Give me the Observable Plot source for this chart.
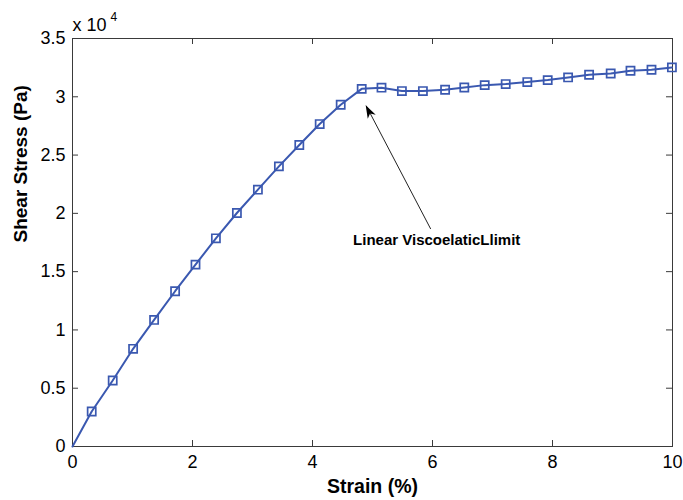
<!DOCTYPE html>
<html>
<head>
<meta charset="utf-8">
<script src="https://cdn.jsdelivr.net/npm/d3@7"></script>
<script src="https://cdn.jsdelivr.net/npm/@observablehq/plot@0.6"></script>
<style>
  html, body { margin: 0; padding: 0; background: #fff; }
  #chart { width: 683px; height: 500px; }
</style>
</head>
<body>
<div id="chart"></div>
<script>
// ---- data ----
const strain = [0, 0.32, 0.67, 1.01, 1.36, 1.71, 2.05, 2.39, 2.74, 3.09, 3.44, 3.78, 4.12, 4.47, 4.82, 5.15, 5.49, 5.84, 6.21, 6.53, 6.87, 7.22, 7.58, 7.92, 8.26, 8.61, 8.97, 9.30, 9.65, 9.99];
const stress = [0, 3000, 5660, 8380, 10860, 13320, 15600, 17860, 20030, 22030, 24030, 25860, 27660, 29320, 30680, 30780, 30490, 30490, 30600, 30800, 31000, 31090, 31260, 31430, 31660, 31890, 32000, 32230, 32320, 32520];
const xTicks = [0, 2, 4, 6, 8, 10];
const yTicks = [0, 5000, 10000, 15000, 20000, 25000, 30000, 35000];
const xLabel = "Strain (%)";
const yLabel = "Shear Stress (Pa)";
const exponentBase = "x 10";
const exponentPower = "4";
const annoText = ["Linear ViscoelaticLlimit"];
const annoTextX = [6.07];
const annoTextY = [17660];
const annoTailX = [5.97];
const annoTailY = [18660];
const annoTipX = [4.895];
const annoTipY = [29230];

const data = strain.map((s, i) => ({strain: s, stress: stress[i]}));
const markerData = data.slice(1);
const anno = annoText.map((t, i) => ({
  text: t, tx: annoTextX[i], ty: annoTextY[i],
  x1: annoTailX[i], y1: annoTailY[i], x2: annoTipX[i], y2: annoTipY[i]
}));

const blue = "#3a58b0";
const axisColor = "#3a3a3a";
const font = "'Liberation Sans', Arial, Helvetica, sans-serif";

const plot = Plot.plot({
  width: 683,
  height: 500,
  marginLeft: 72,
  marginRight: 11,
  marginTop: 38,
  marginBottom: 54,
  style: {fontFamily: font, fontSize: "18px", color: "#000", background: "#fff", overflow: "visible"},
  x: {domain: [0, 10]},
  y: {domain: [0, 35000]},
  marks: [
    Plot.frame({stroke: axisColor}),
    // inward ticks, bottom & top
    Plot.tickX(xTicks, {x: d => d, insetTop: 402, stroke: axisColor}),
    Plot.tickX(xTicks, {x: d => d, insetBottom: 402, stroke: axisColor}),
    // inward ticks, left & right
    Plot.tickY(yTicks, {y: d => d, insetRight: 594, stroke: axisColor}),
    Plot.tickY(yTicks, {y: d => d, insetLeft: 594, stroke: axisColor}),
    Plot.axisX({ticks: xTicks, tickSize: 0, tickPadding: 9, fontSize: 18, label: null, tickFormat: d => String(d)}),
    Plot.axisY({ticks: yTicks, tickSize: 0, tickPadding: 7, fontSize: 18, label: null, tickFormat: d => String(d / 1e4)}),
    Plot.text([xLabel], {frameAnchor: "bottom", dy: 40, text: d => d, fontWeight: "bold", fontSize: 19.5, lineAnchor: "middle"}),
    Plot.text([yLabel], {frameAnchor: "left", dx: -52, dy: 0, rotate: -90, text: d => d, fontWeight: "bold", fontSize: 19, lineAnchor: "middle"}),
    Plot.text([exponentBase], {frameAnchor: "top-left", textAnchor: "start", lineAnchor: "bottom", dy: -8, dx: 0, text: d => d, fontSize: 18}),
    Plot.text([exponentPower], {frameAnchor: "top-left", textAnchor: "start", lineAnchor: "bottom", dy: -18, dx: 38, text: d => d, fontSize: 12}),
    Plot.line(data, {x: "strain", y: "stress", stroke: blue, strokeWidth: 2}),
    Plot.dot(markerData, {x: "strain", y: "stress", symbol: "square", r: 4.6, stroke: blue, strokeWidth: 1.7, fill: "none"}),
    Plot.link(anno, {x1: "x1", y1: "y1", x2: "x2", y2: "y2", stroke: "#222", strokeWidth: 1}),
    Plot.text(anno, {x: "tx", y: "ty", text: "text", fontWeight: "bold", fontSize: 15, lineAnchor: "middle", fill: "#000"})
  ]
});

// filled arrow head positioned via the plot's scales
const sx = plot.scale("x"), sy = plot.scale("y");
for (const a of anno) {
  const tx = sx.apply(a.x2), ty = sy.apply(a.y2);
  const bx = sx.apply(a.x1), by = sy.apply(a.y1);
  const dx = tx - bx, dy = ty - by, len = Math.hypot(dx, dy);
  const ux = dx / len, uy = dy / len, nx = -uy, ny = ux;
  const L = 13, W = 4.5;
  const backX = tx - ux * L, backY = ty - uy * L;
  const notchX = tx - ux * L * 0.72, notchY = ty - uy * L * 0.72;
  const p = `M${tx},${ty}L${backX + nx * W},${backY + ny * W}L${notchX},${notchY}L${backX - nx * W},${backY - ny * W}Z`;
  const path = document.createElementNS("http://www.w3.org/2000/svg", "path");
  path.setAttribute("d", p);
  path.setAttribute("fill", "#000");
  plot.appendChild(path);
}

document.getElementById("chart").appendChild(plot);
</script>
</body>
</html>
